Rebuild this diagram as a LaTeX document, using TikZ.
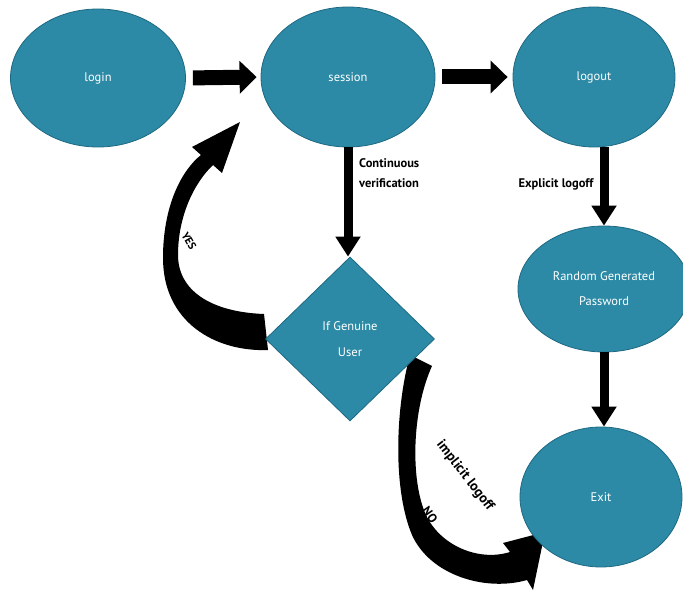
\documentclass[tikz,border=0pt]{standalone}
\usepackage{fontspec}
\setmainfont{PT Sans}
\usetikzlibrary{shapes.geometric,arrows.meta}
\definecolor{teal1}{RGB}{44,138,166}
\definecolor{teal2}{RGB}{30,105,130}
\tikzset{
  oval/.style={ellipse, draw=teal2, line width=0.8pt, fill=teal1, text=white, inner sep=0pt,
    font=\fontsize{12.5}{25}\selectfont, align=center},
  decide/.style={diamond, draw=teal2, line width=0.8pt, fill=teal1, text=white, inner sep=0pt,
    minimum width=169pt, minimum height=164pt, font=\fontsize{12.5}{26}\selectfont, align=center},
  hblock/.style={line width=15pt, -{Triangle[length=17pt,width=32pt]}},
  vblock/.style={line width=9pt, -{Triangle[length=20pt,width=24pt]}},
  lab/.style={font=\bfseries\fontsize{12.5}{20}\selectfont, text=black, inner sep=1pt},
  curvy/.style={fill=black}
}
\begin{document}
\begin{tikzpicture}[x=1pt,y=-1pt]
\useasboundingbox (0,0) rectangle (683,591);
% curved block arrows (behind nodes)
\fill[curvy] (268,350) .. controls (215,352) and (163,322) .. (163,258)
  .. controls (163,205) and (182,170) .. (201,155) -- (192,147) -- (240,122) -- (222,173) -- (213,165)
  .. controls (195,182) and (178,215) .. (178,255)
  .. controls (178,290) and (210,312) .. (264,314) -- cycle;
\fill[curvy] (410,355) .. controls (395,410) and (393,490) .. (412,535)
  .. controls (430,575) and (485,592) .. (527,580) -- (533,590) -- (545,532) -- (503,543) -- (510,552)
  .. controls (478,562) and (440,545) .. (426,515)
  .. controls (410,480) and (412,410) .. (432,366) -- cycle;
% nodes
\node[oval, minimum width=175pt, minimum height=138pt] (login) at (98,78) {login};
\node[oval, minimum width=174pt, minimum height=140pt] (session) at (348,77) {session};
\node[oval, minimum width=162pt, minimum height=140pt] (logout) at (594,77) {logout};
\node[oval, minimum width=172pt, minimum height=126pt] (rgp) at (604,289) {Random Generated\\Password};
\node[oval, minimum width=162pt, minimum height=140pt] (exit) at (601,497) {Exit};
\node[decide] (genuine) at (350,339) {If Genuine\\User};
% straight block arrows
\draw[hblock, shorten <=7pt, shorten >=4pt] (login.east) -- (session.west);
\draw[hblock, shorten <=7pt, shorten >=5pt] (session.east) -- (logout.west);
\draw[vblock] (session.south) -- (session.south |- genuine.north);
\draw[vblock] (rgp.north |- logout.south) -- (rgp.north);
\draw[vblock] (rgp.south) -- (rgp.south |- exit.north);
% labels
\node[lab, anchor=west, align=left] (cv) at (358,173) {Continuous\\verification};
\node[lab] (el) at (556,184) {Explicit logoff};
\node[lab, rotate=-60, font=\bfseries\fontsize{11}{13}\selectfont] (yes) at (189,241) {YES};
\node[lab, rotate=-52, font=\bfseries\fontsize{14}{16}\selectfont] (il) at (465,476) {implicit logoff};
\node[lab, rotate=-55] (no) at (430,515) {NO};
\end{tikzpicture}
\end{document}
